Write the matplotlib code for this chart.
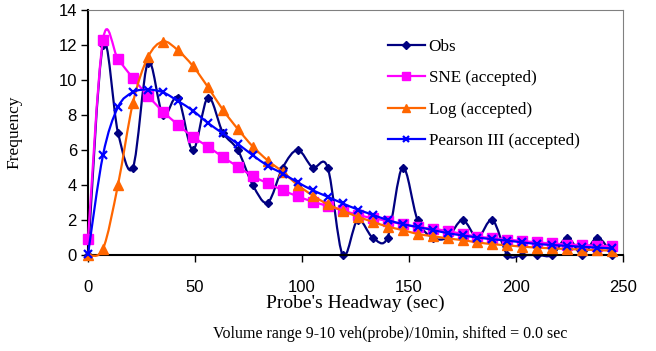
import numpy as np
import matplotlib
matplotlib.use("Agg")
import matplotlib.pyplot as plt
from matplotlib.path import Path
from matplotlib.patches import PathPatch
from matplotlib.lines import Line2D

# headway bins (sec)
headway = [0, 7, 14, 21, 28, 35, 42, 49, 56, 63, 70, 77, 84, 91, 98, 105, 112, 119,
           126, 133, 140, 147, 154, 161, 168, 175, 182, 189, 196, 203, 210, 217, 224,
           231, 238, 245]

obs = [0, 12, 7, 5, 11, 8, 9, 6, 9, 7, 6, 4, 3, 5, 6, 5, 5, 0,
       2, 1, 1, 5, 2, 1, 1, 2, 1, 2, 0, 0, 0, 0, 1, 0, 1, 0]

sne = [0.9, 12.3, 11.2, 10.1, 9.1, 8.2, 7.45, 6.75, 6.2, 5.6, 5.05, 4.5, 4.1, 3.7,
       3.35, 3.05, 2.8, 2.55, 2.3, 2.1, 1.95, 1.75, 1.6, 1.5, 1.37, 1.2, 1.05, 0.97,
       0.88, 0.8, 0.72, 0.66, 0.6, 0.57, 0.53, 0.5]

log_fit = [0, 0.35, 4.0, 8.7, 11.3, 12.2, 11.7, 10.8, 9.6, 8.3, 7.2, 6.2, 5.4, 4.75,
           4.0, 3.4, 2.9, 2.53, 2.19, 1.9, 1.62, 1.43, 1.2, 1.08, 0.95, 0.85, 0.72,
           0.62, 0.55, 0.48, 0.42, 0.38, 0.34, 0.31, 0.28, 0.25]

pearson = [0.05, 5.7, 8.45, 9.3, 9.45, 9.3, 8.8, 8.25, 7.55, 6.95, 6.35, 5.7, 5.1,
           4.65, 4.15, 3.7, 3.33, 2.95, 2.6, 2.3, 2.0, 1.77, 1.6, 1.43, 1.25, 1.12,
           1.0, 0.9, 0.82, 0.72, 0.63, 0.57, 0.52, 0.47, 0.42, 0.38]

SERIF = "Liberation Serif"
SANS = "Liberation Sans"


def smooth_path(x, y):
    # excel-like smoothed line: catmull-rom as cubic bezier segments
    pts = np.column_stack([x, y]).astype(float)
    n = len(pts)
    verts = [pts[0]]
    codes = [Path.MOVETO]
    for i in range(n - 1):
        p0 = pts[i - 1] if i > 0 else pts[i]
        p1 = pts[i]
        p2 = pts[i + 1]
        p3 = pts[i + 2] if i + 2 < n else pts[i + 1]
        c1 = p1 + (p2 - p0) / 6.0
        c2 = p2 - (p3 - p1) / 6.0
        verts += [c1, c2, p2]
        codes += [Path.CURVE4] * 3
    return Path(verts, codes)


series = [
    ("Obs", obs, "#000080", "D", 4.5, 1.0),
    ("SNE (accepted)", sne, "#FF00FF", "s", 6.5, 1.0),
    ("Log (accepted)", log_fit, "#FF6600", "^", 6.5, 1.0),
    ("Pearson III (accepted)", pearson, "#0000FF", "x", 6, 1.6),
]

fig = plt.figure(figsize=(6.56, 3.51), dpi=100)
ax = fig.add_axes([88 / 656, 1 - 255 / 351, 535 / 656, 245 / 351])

handles = []
for k, (name, vals, color, marker, ms, mew) in enumerate(series):
    patch = PathPatch(smooth_path(headway, vals), facecolor="none", edgecolor=color,
                      lw=1.6, zorder=2 + k, clip_on=False)
    ax.add_patch(patch)
    ax.plot(headway, vals, ls="none", marker=marker, ms=ms, color=color, mec=color,
            mew=mew, zorder=2 + k, clip_on=False)
    handles.append(Line2D([], [], color=color, lw=1.6, marker=marker, ms=ms * 0.8,
                          mew=mew, label=name))

ax.set_xlim(0, 250)
ax.set_ylim(0, 14)
ax.set_xticks(np.arange(0, 251, 50))
ax.set_yticks(np.arange(0, 15, 2))
ax.tick_params(axis="x", direction="out", length=5, width=1, pad=13, labelsize=12)
ax.tick_params(axis="y", direction="out", length=5, width=1, pad=3, labelsize=12)
for lbl in ax.get_xticklabels() + ax.get_yticklabels():
    lbl.set_fontfamily(SANS)

ax.spines["left"].set_linewidth(1.5)
ax.spines["bottom"].set_linewidth(1.5)
ax.spines["top"].set_color("#808080")
ax.spines["right"].set_color("#808080")

ax.set_xlabel("Probe's Headway (sec)", fontfamily=SERIF, fontsize=14)
ax.xaxis.set_label_coords(0.5, -0.163)
ax.set_ylabel("Frequency", fontfamily=SERIF, fontsize=12.5)
ax.yaxis.set_label_coords(-0.122, 0.5)

ax.legend(handles=handles, loc="upper left", bbox_to_anchor=(0.56, 0.882),
          frameon=False, prop={"family": SERIF, "size": 12.3}, handlelength=2.2,
          handletextpad=0.2, labelspacing=0.9, borderaxespad=0, borderpad=0)

fig.text(390 / 656, 0.048, "Volume range 9-10 veh(probe)/10min, shifted = 0.0 sec",
         ha="center", va="center", fontfamily=SERIF, fontsize=11.5)

fig.savefig("out.png", dpi=100)
